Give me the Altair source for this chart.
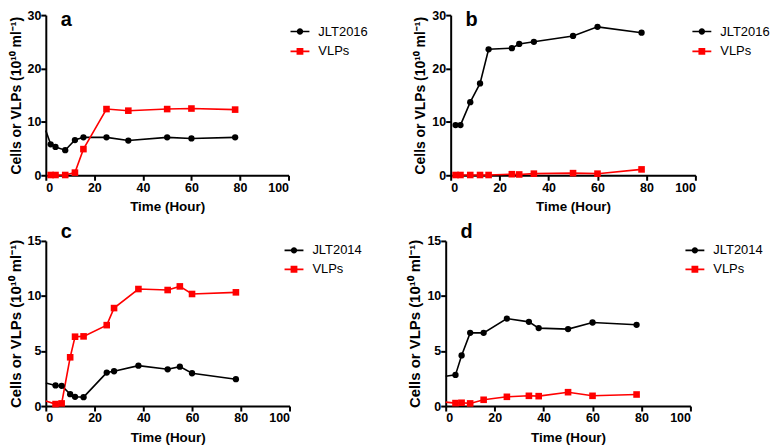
import altair as alt
import pandas as pd

# ---------------- data ----------------
# panel a : JLT2016
a_cells_t = [0, 2, 4, 8, 12, 15.5, 25, 34, 50, 60, 78]
a_cells_v = [8.4, 5.8, 5.3, 4.7, 6.6, 7.1, 7.1, 6.5, 7.1, 6.9, 7.1]
a_vlp_t = [2, 4, 8, 12, 15.5, 25, 34, 50, 60, 78]
a_vlp_v = [0.05, 0.05, 0.05, 0.5, 4.9, 12.4, 12.1, 12.4, 12.5, 12.3]

# panel b : JLT2016
b_cells_t = [2, 4, 8, 12, 15.5, 25, 28, 34, 50, 60, 78]
b_cells_v = [9.4, 9.4, 13.7, 17.2, 23.6, 23.8, 24.6, 25.0, 26.1, 27.8, 26.7]
b_vlp_t = [2, 4, 8, 12, 15.5, 25, 28, 34, 50, 60, 78]
b_vlp_v = [0.05, 0.05, 0.05, 0.05, 0.05, 0.2, 0.15, 0.3, 0.4, 0.3, 1.1]

# panel c : JLT2014
c_cells_t = [0, 4, 6.5, 10, 12, 15.5, 25, 28, 38, 50, 55, 60, 78]
c_cells_v = [2.1, 1.87, 1.84, 1.08, 0.84, 0.81, 3.04, 3.16, 3.67, 3.34, 3.58, 2.98, 2.44]
c_vlp_t = [0, 4, 6.5, 10, 12, 15.5, 25, 28, 38, 50, 55, 60, 78]
c_vlp_v = [0.45, 0.18, 0.24, 4.43, 6.3, 6.33, 7.35, 8.9, 10.63, 10.54, 10.87, 10.18, 10.33]

# panel d : JLT2014
d_cells_t = [0, 4, 6.5, 10, 15.5, 25, 34, 38, 50, 60, 78]
d_cells_v = [2.7, 2.83, 4.6, 6.65, 6.65, 7.95, 7.65, 7.08, 6.99, 7.59, 7.38]
d_vlp_t = [0, 4, 6.5, 10, 15.5, 25, 34, 38, 50, 60, 78]
d_vlp_v = [0.36, 0.27, 0.3, 0.24, 0.57, 0.84, 0.93, 0.9, 1.26, 0.93, 1.05]

x_ticks = [0, 20, 40, 60, 80, 100]
y_title = "Cells or VLPs (10¹⁰ ml⁻¹)"
x_title = "Time (Hour)"

BLACK = "#000000"
RED = "#ff0000"
FONT = "Liberation Sans"

LEG_CIRCLE = "M-1,-0.09H1V0.09H-1Z M0.34,0A0.34,0.34 0 1,1 -0.34,0A0.34,0.34 0 1,1 0.34,0Z"
LEG_SQUARE = "M-1,-0.09H1V0.09H-1Z M-0.36,-0.36H0.36V0.36H-0.36Z"


def frame(strain, ct, cv, vt, vv):
    rows = []
    for t, v in zip(ct, cv):
        rows.append({"time": t, "value": v, "series": strain})
    for t, v in zip(vt, vv):
        rows.append({"time": t, "value": v, "series": "VLPs"})
    return pd.DataFrame(rows)


def panel(letter, strain, df, ymax, ystep, w, h, ytitle_size, title_dy, leg_x, leg_y, row_pad):
    dom = [strain, "VLPs"]
    base = alt.Chart(df)
    x = alt.X("time:Q", scale=alt.Scale(domain=[0, 100], nice=False),
              axis=alt.Axis(values=x_ticks, title=x_title))
    y = alt.Y("value:Q", scale=alt.Scale(domain=[0, ymax], nice=False),
              axis=alt.Axis(values=list(range(0, ymax + 1, ystep)), title=y_title,
                            titleFontSize=ytitle_size))
    cells = base.transform_filter(alt.datum.series == strain)
    vlps = base.transform_filter(alt.datum.series == "VLPs")
    line_c = cells.mark_line(strokeWidth=1.6, color=BLACK).encode(x=x, y=y)
    line_v = vlps.mark_line(strokeWidth=1.6, color=RED).encode(x=x, y=y)
    pts_c = cells.transform_filter(alt.datum.time > 0).mark_point(
        shape="circle", filled=True, size=40, opacity=1, color=BLACK).encode(x=x, y=y)
    pts_v = vlps.transform_filter(alt.datum.time > 0).mark_point(
        shape="square", filled=True, size=44, opacity=1, color=RED).encode(x=x, y=y)
    legend = alt.Legend(title=None, orient="none", legendX=leg_x, legendY=leg_y,
                        symbolSize=361, symbolStrokeWidth=0, labelFont=FONT,
                        labelFontSize=13, labelColor=BLACK, rowPadding=row_pad,
                        labelOffset=9, symbolOpacity=1, padding=0)
    leg = base.mark_point(filled=True, opacity=0).encode(
        x=x, y=y,
        color=alt.Color("series:N", scale=alt.Scale(domain=dom, range=[BLACK, RED]), legend=legend),
        shape=alt.Shape("series:N", scale=alt.Scale(domain=dom, range=[LEG_CIRCLE, LEG_SQUARE]), legend=legend),
    )
    return alt.layer(line_c, line_v, pts_c, pts_v, leg).properties(
        width=w, height=h,
        title=alt.TitleParams(letter, anchor="start", frame="group", fontSize=20,
                              fontWeight="bold", font=FONT, color=BLACK,
                              baseline="alphabetic", offset=0, dx=15, dy=title_dy),
    )


pa = panel("a", "JLT2016", frame("JLT2016", a_cells_t, a_cells_v, a_vlp_t, a_vlp_v), 30, 10, 244, 161, 14, 37, 246, 7, 3)
pb = panel("b", "JLT2016", frame("JLT2016", b_cells_t, b_cells_v, b_vlp_t, b_vlp_v), 30, 10, 246, 161, 14, 37, 243, 7, 3)
pc = panel("c", "JLT2014", frame("JLT2014", c_cells_t, c_cells_v, c_vlp_t, c_vlp_v), 15, 5, 245, 166, 15, 23, 240, 0, 2)
pd_ = panel("d", "JLT2014", frame("JLT2014", d_cells_t, d_cells_v, d_vlp_t, d_vlp_v), 15, 5, 246, 166, 15, 23, 241, 0, 2)

top = alt.hconcat(pa, pb, spacing=46).resolve_scale(color="independent", shape="independent").resolve_legend(
    color="independent", shape="independent")
bottom = alt.hconcat(pc, pd_, spacing=46).resolve_scale(color="independent", shape="independent").resolve_legend(
    color="independent", shape="independent")

chart = alt.vconcat(top, bottom, spacing=9).resolve_scale(
    color="independent", shape="independent").resolve_legend(
    color="independent", shape="independent").properties(
    padding={"left": 0, "top": 0, "right": 0, "bottom": 0}
).configure_view(stroke=None).configure_axis(
    grid=False, domainColor=BLACK, domainWidth=2, tickColor=BLACK, tickWidth=2,
    tickSize=5, labelFont=FONT, labelFontSize=12.5, labelFontWeight="bold",
    labelColor=BLACK, labelPadding=1, titleFont=FONT, titleFontSize=13.5,
    titleFontWeight="bold", titleColor=BLACK,
).configure_axisY(titlePadding=4, labelPadding=0).configure_axisX(titlePadding=6)

chart.save("out.html", embed_options={"renderer": "svg", "actions": False})
